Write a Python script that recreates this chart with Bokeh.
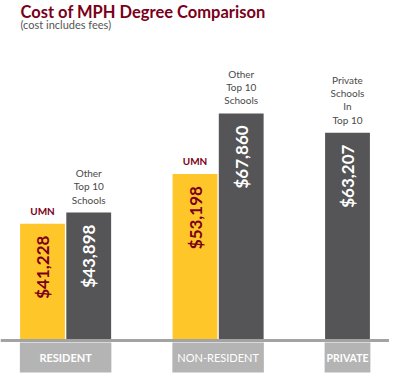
import math
from bokeh.plotting import figure
from bokeh.models import FactorRange, Range1d, Span, Label, ColumnDataSource
from bokeh.core.properties import value
from bokeh.embed import file_html
from bokeh.resources import INLINE

# ---- data ----
groups = ["RESIDENT", "RESIDENT", "NON-RESIDENT", "NON-RESIDENT", "PRIVATE"]
schools = ["UMN", "Other Top 10 Schools", "UMN", "Other Top 10 Schools", "Private Schools In Top 10"]
school_labels = ["UMN", "Other\nTop 10\nSchools", "UMN", "Other\nTop 10\nSchools", "Private\nSchools\nIn\nTop 10"]
costs = [41228, 43898, 53198, 67860, 63207]
group_names = ["RESIDENT", "NON-RESIDENT", "PRIVATE"]
title_text = "Cost of MPH Degree Comparison"
subtitle_text = "(cost includes fees)"

# ---- styles ----
GOLD = "#FFC629"
DARK = "#555557"
MAROON = "#7A0019"
BOX = "#B4B4B4"
LINE = "#A3A3A3"
FONT = "Lato"

FIG_W, FIG_H = 389, 373
PX_PER_UNIT = 0.00414
BASE = 13000
BASE_PX = 340
Y_END = BASE + BASE_PX / PX_PER_UNIT
Y_START = Y_END - FIG_H / PX_PER_UNIT

def px_to_y(px_from_top):
    return Y_END - px_from_top / PX_PER_UNIT

factors = list(zip(groups, schools))
is_umn = [s == "UMN" for s in schools]
source = ColumnDataSource(dict(
    x=factors,
    top=costs,
    bottom=[BASE] * len(costs),
    fill=[GOLD if u else DARK for u in is_umn],
    vlabel=["${:,}".format(c) for c in costs],
    vcolor=[MAROON if u else "white" for u in is_umn],
    slabel=school_labels,
    scolor=[MAROON if u else "#4a4a4a" for u in is_umn],
    sweight=["bold" if u else "normal" for u in is_umn],
))

x_range = FactorRange(*factors, group_padding=1.3, factor_padding=0.0,
                      range_padding=0.409, range_padding_units="absolute")

p = figure(width=FIG_W, height=FIG_H, x_range=x_range, y_range=Range1d(Y_START, Y_END),
           output_backend="svg", toolbar_location=None, title=None,
           min_border_left=0, min_border_right=0, min_border_top=0, min_border_bottom=0)
p.xaxis.visible = False
p.yaxis.visible = False
p.xgrid.visible = False
p.ygrid.visible = False
p.outline_line_color = None
p.background_fill_color = "white"

p.vbar(x="x", top="top", bottom="bottom", width=0.97, fill_color="fill",
       line_color=None, source=source)

# baseline
p.add_layout(Span(location=BASE, dimension="width", line_color=LINE, line_width=3))

# category boxes
box_y = px_to_y(BASE_PX + 17)
group_sizes = [groups.count(g) for g in group_names]
p.rect(x=group_names, y=[box_y] * 3, width=[0.99 * n if n > 1 else 0.99 for n in group_sizes],
       height=30, height_units="screen", fill_color=BOX, line_color=None)
p.text(x=group_names, y=[box_y] * 3, text=group_names, text_align="center",
       text_baseline="middle", text_color="white", text_font=value(FONT),
       text_font_size=["11px", "11px", "10.5px"],
       text_font_style=["bold", "normal", "bold"])

# school labels above bars
p.text(x="x", y="top", text="slabel", source=source, text_align="center",
       text_baseline="bottom", y_offset=-7, text_color="scolor",
       text_font=value(FONT), text_font_size="10px", text_font_style="sweight",
       text_line_height=1.1)

# value labels inside bars (rotated)
p.text(x="x", y="top", text="vlabel", source=source, angle=math.pi / 2,
       text_align="right", text_baseline="middle", y_offset=12,
       text_color="vcolor", text_font=value(FONT), text_font_size="17px",
       text_font_style="bold")

# title and subtitle
p.add_layout(Label(x=20, y=FIG_H - 11, x_units="screen", y_units="screen",
                   text=title_text, text_font=FONT, text_font_size="16.5px",
                   text_font_style="bold", text_color=MAROON,
                   text_baseline="alphabetic"))
p.add_layout(Label(x=20, y=FIG_H - 24, x_units="screen", y_units="screen",
                   text=subtitle_text, text_font=FONT, text_font_size="11px",
                   text_color="#555555", text_baseline="alphabetic"))

open("out.html", "w").write(file_html(p, INLINE))
